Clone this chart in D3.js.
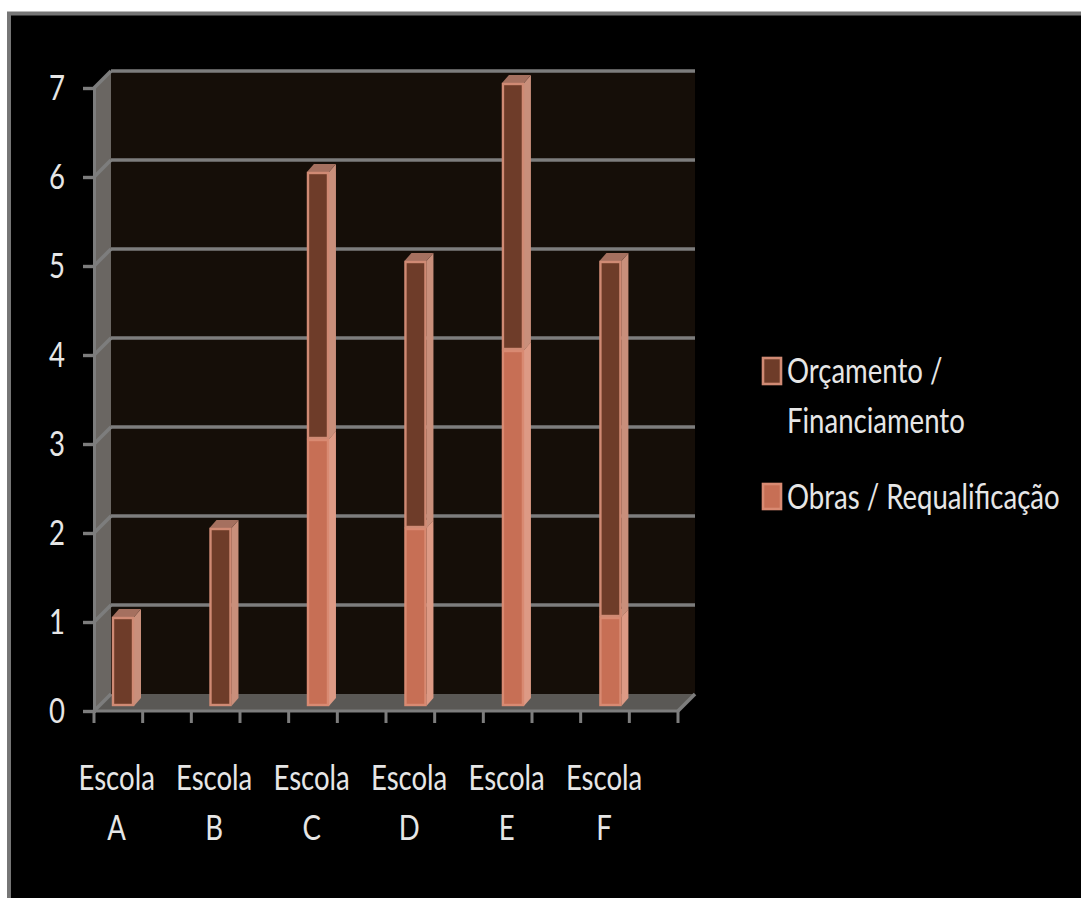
<!DOCTYPE html>
<html>
<head>
<meta charset="utf-8">
<script src="https://cdnjs.cloudflare.com/ajax/libs/d3/7.8.5/d3.min.js"></script>
<style>
html,body{margin:0;padding:0;background:#fff;overflow:hidden}
svg{display:block}
text{font-family:Lato,"Open Sans",sans-serif;font-weight:400;fill:#e6e6e6}
</style>
</head>
<body>
<svg id="chart" width="1081" height="898"></svg>
<script>
// Number of projects per school, split by kind of work
const schools = ["A", "B", "C", "D", "E", "F"];
const obras = [0, 0, 3, 2, 4, 1];
const orcamento = [1, 2, 3, 3, 3, 4];
const yTicks = [0, 1, 2, 3, 4, 5, 6, 7];
const legendOrcamento = ["Orçamento /", "Financiamento"];
const legendObras = ["Obras / Requalificação"];

const svg = d3.select("#chart");
const textScale = "scale(0.95,1.22)";

// Slide frame and black background
svg.append("rect").attr("x", 9).attr("y", 13.5).attr("width", 1080).attr("height", 900)
  .attr("fill", "#000").attr("stroke", "#767676").attr("stroke-width", 4);

// Front plane of the 3D box
const x = d3.scaleBand().domain(schools).range([94, 678]);
const y = d3.scaleLinear().domain([0, 7]).range([711, 88]);
const depth = 17;
const line = d3.line();
const poly = (pts, fill) => svg.append("path").attr("d", line(pts) + "Z").attr("fill", fill);

const [x0, x1] = x.range();
const y0 = y(0), y7 = y(7);

// Back wall, side wall, floor
poly([[x0 + depth, y7 - depth], [x1 + depth, y7 - depth], [x1 + depth, y0 - depth], [x0 + depth, y0 - depth]], "#150e08");
poly([[x0, y0], [x0 + depth, y0 - depth], [x0 + depth, y7 - depth], [x0, y7]], "#6a6662");
poly([[x0, y0], [x1, y0], [x1 + depth, y0 - depth], [x0 + depth, y0 - depth]], "#5a5855");

// Gridlines on the back wall and their links down the side wall
const grid = svg.append("g").attr("stroke", "#7d7d7d").attr("stroke-width", 3.6).attr("fill", "none");
yTicks.forEach(t => {
  if (t > 0) grid.append("line").attr("x1", x0 + depth).attr("x2", x1 + depth).attr("y1", y(t) - depth).attr("y2", y(t) - depth);
  grid.append("line").attr("x1", x0).attr("x2", x0 + depth).attr("y1", y(t)).attr("y2", y(t) - depth);
});
grid.append("line").attr("x1", x1).attr("x2", x1 + depth).attr("y1", y0).attr("y2", y0 - depth);

// Value axis
const yAxis = svg.append("g").attr("transform", `translate(${x0},0)`)
  .call(d3.axisLeft(y).tickValues(yTicks).tickSize(11).tickPadding(0).tickFormat(d3.format("d")));
yAxis.select(".domain").attr("stroke", "#7d7d7d").attr("stroke-width", 3);
yAxis.selectAll(".tick line").attr("stroke", "#7d7d7d").attr("stroke-width", 3.4);
yAxis.selectAll(".tick text")
  .attr("x", 0).attr("dy", null).attr("y", 0)
  .attr("text-anchor", "middle").attr("dominant-baseline", "central")
  .attr("font-size", 29)
  .attr("transform", `translate(-37,-1.5) ${textScale}`);

// Category axis: a tick at the edge and at the middle of every band
const half = x.bandwidth() / 2;
const xTicks = [x0].concat(d3.range(12).map(i => x0 + (i + 1) * half));
const xAxisGrp = svg.append("g").attr("stroke", "#7d7d7d").attr("stroke-width", 3);
xAxisGrp.append("line").attr("x1", x0).attr("x2", x1).attr("y1", y0).attr("y2", y0);
xAxisGrp.selectAll(".xt").data(xTicks).join("line").attr("class", "xt")
  .attr("x1", d => d).attr("x2", d => d).attr("y1", y0).attr("y2", y0 + 12);

const catLabel = svg.append("g").attr("text-anchor", "middle");
schools.forEach((s, i) => {
  const cx = x(s) + half - 26 + i * 0.15;
  catLabel.append("text").attr("transform", `translate(${cx},790) ${textScale}`).attr("font-size", 29).text("Escola");
  catLabel.append("text").attr("transform", `translate(${cx},840) ${textScale}`).attr("font-size", 29).text(s);
});

// Stacked 3D columns
const barW = 22, barDx = 7, barDy = 8, barX = 18, barBase = -5;
const colours = {
  orcamento: {front: "#6e3c29", side: "#c98f7b", top: "#a5705f", edge: "#d08a74"},
  obras: {front: "#c76f55", side: "#dd9a85", top: "#d98f78", edge: "#d98a72"}
};
function column(px, v0, v1, c) {
  const yb = y(v0) + barBase, yt = y(v1) + barBase;
  poly([[px + barW, yb], [px + barW + barDx, yb - barDy], [px + barW + barDx, yt - barDy], [px + barW, yt]], c.side);
  poly([[px, yt], [px + barDx, yt - barDy], [px + barW + barDx, yt - barDy], [px + barW, yt]], c.top);
  svg.append("rect").attr("x", px + 1).attr("y", yt + 1).attr("width", barW - 2).attr("height", yb - yt - 2)
    .attr("fill", c.front).attr("stroke", c.edge).attr("stroke-width", 2.4);
}
schools.forEach((s, i) => {
  const px = x(s) + barX + i * 0.15;
  if (obras[i] > 0) column(px, 0, obras[i], colours.obras);
  column(px, obras[i], obras[i] + orcamento[i], colours.orcamento);
});

// Legend
function swatch(sy, h, c) {
  svg.append("rect").attr("x", 763).attr("y", sy).attr("width", 18).attr("height", h)
    .attr("fill", c.front).attr("stroke", c.edge).attr("stroke-width", 2.6);
}
const legendText = (ty, t) => svg.append("text")
  .attr("transform", `translate(787,${ty}) ${textScale}`).attr("font-size", 29).text(t);
swatch(358, 26, colours.orcamento);
legendText(383, legendOrcamento[0]);
legendText(433, legendOrcamento[1]);
swatch(484, 25, colours.obras);
legendText(509, legendObras[0]);
</script>
</body>
</html>
